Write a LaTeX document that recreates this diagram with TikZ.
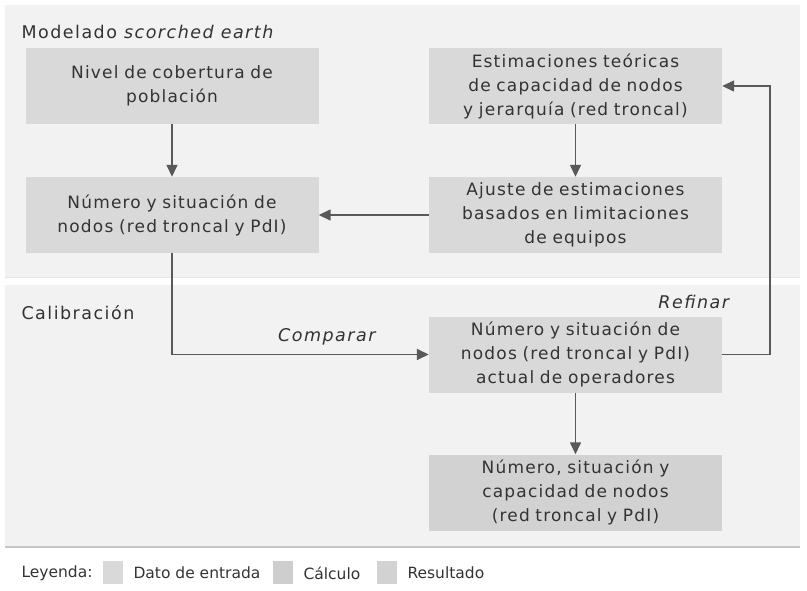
\documentclass[tikz,border=0pt]{standalone}
\usepackage{fontspec}
\setmainfont{DejaVu Sans}
\newfontfamily\boxfont[LetterSpace=7]{DejaVu Sans}
\newfontfamily\headfont[LetterSpace=8.5]{DejaVu Sans}
\usepackage{xcolor}
\usepackage{tikz}
\usetikzlibrary{shapes,arrows,arrows.meta}
\usetikzlibrary{positioning}
\definecolor{panelgray}{HTML}{F2F2F2}
\definecolor{boxgray}{HTML}{D9D9D9}
\definecolor{resgray}{HTML}{D2D2D2}
\definecolor{linegray}{HTML}{595959}
\definecolor{textgray}{HTML}{333333}
\tikzstyle{block} = [rectangle, draw=none, fill=boxgray, text=textgray,
    text width=290pt, align=center, minimum width=293pt, minimum height=76pt,
    inner xsep=1pt, font=\boxfont\fontsize{17}{24}\selectfont]
\tikzstyle{line} = [draw=linegray, line width=1.5pt, -{Triangle[length=12pt,width=11pt]}]
\tikzstyle{label} = [text=textgray, font=\headfont\fontsize{17.5}{19}\selectfont]
\tikzstyle{legend} = [text=textgray, font=\fontsize{15.5}{19}\selectfont]

\begin{document}
\begin{tikzpicture}[x=1pt,y=-1pt,auto]
    \useasboundingbox (0,0) rectangle (807,591);
    % Panels
    \fill[panelgray] (5,5) rectangle (800,277);
    \draw[gray!20, line width=0.8pt] (5,277) -- (800,277);
    \fill[panelgray] (5,285) rectangle (800,547);
    \draw[gray!45, line width=1.2pt] (5,547) -- (800,547);
    \node[label, anchor=west] (model) at (18,32) {Modelado \textit{scorched earth}};
    \node[label, anchor=west] (calib) at (18,313) {Calibración};
    % Place nodes
    \node [block] (nivel) at (172,86) {Nivel de cobertura de\\población};
    \node [block, node distance=129pt, below of=nivel] (numero) {Número y situación de\\nodos (red troncal y PdI)};
    \node [block, node distance=403.5pt, right of=nivel] (estim) {Estimaciones teóricas\\de capacidad de nodos\\y jerarquía (red troncal)};
    \node [block, node distance=129pt, below of=estim] (ajuste) {Ajuste de estimaciones\\basados en limitaciones\\de equipos};
    \node [block, node distance=139.5pt, below of=ajuste] (actual) {Número y situación de\\nodos (red troncal y PdI)\\actual de operadores};
    \node [block, fill=resgray, node distance=138pt, below of=actual] (result) {Número, situación y\\capacidad de nodos\\(red troncal y PdI)};
    \coordinate (corner) at (770,354.5);
    \node[label] (comparar) at (328,337) {\textit{Comparar}};
    \node[label] (refinar) at (695,302) {\textit{Refinar}};
    % Draw edges
    \path [line] (nivel) -- (numero);
    \path [line] (estim) -- (ajuste);
    \path [line] (ajuste) -- (numero);
    \path [line] (numero.south) |- (actual.west);
    \path [line] (actual.east) -- (corner) |- (estim.east);
    \path [line] (actual) -- (result);
    % Legend
    \node[legend, anchor=west] (leyenda) at (18,573) {Leyenda:};
    \fill[boxgray] (103,561) rectangle (123,584);
    \node[legend, anchor=west] (dato) at (130,573) {Dato de entrada};
    \fill[boxgray!95!black] (273,561) rectangle (293,584);
    \node[legend, anchor=west] (calc) at (300,573) {Cálculo};
    \fill[resgray] (377,561) rectangle (397,584);
    \node[legend, anchor=west] (resul) at (404,573) {Resultado};
\end{tikzpicture}
\end{document}
